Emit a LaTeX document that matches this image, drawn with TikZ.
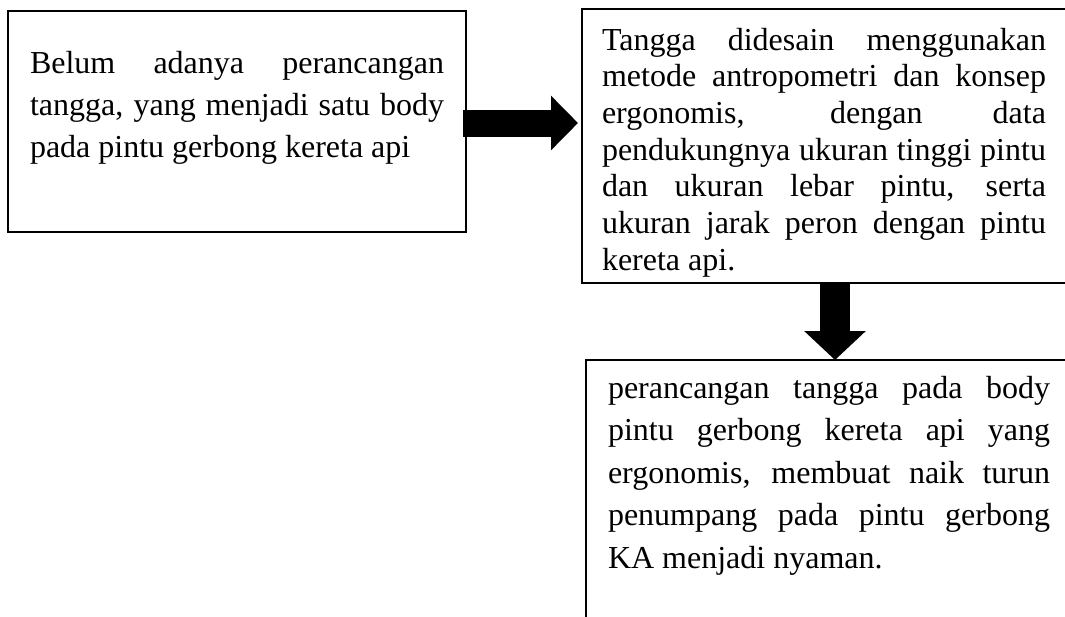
\documentclass[tikz,border=0pt]{standalone}
\usepackage{fontspec}
\setmainfont{Liberation Serif}
\usetikzlibrary{arrows.meta,calc}
\begin{document}
\begin{tikzpicture}[x=1pt,y=-1pt,
  boxa/.style={draw, line width=2pt, rectangle, anchor=north west, inner sep=0pt, outer sep=0pt},
  txt/.style={anchor=base west, inner sep=0pt, outer sep=0pt, align=justify},
  bigarrow/.style={draw=black, line width=#1}]
\useasboundingbox (0,0) rectangle (1065,616);
\clip (0,0) rectangle (1065,616);
\node[boxa, minimum width=458pt, minimum height=221pt] (b1) at (8,11) {};
\node[boxa, line width=2.6pt, minimum width=500pt, minimum height=274pt] (b2) at (582,9) {};
\node[boxa, minimum width=500pt, minimum height=280pt] (b3) at (586,360) {};
\node[txt, text width=414pt, font=\fontsize{32}{42}\selectfont] (t1) at (30,73)
 {Belum adanya perancangan\linebreak tangga, yang menjadi satu body\linebreak pada pintu gerbong kereta api};
\node[txt, text width=444pt, font=\fontsize{32}{36.67}\selectfont] (t2) at (602,50)
 {Tangga didesain menggunakan\linebreak metode antropometri dan konsep\linebreak ergonomis, dengan data\linebreak pendukungnya ukuran tinggi pintu\linebreak dan ukuran lebar pintu, serta\linebreak ukuran jarak peron dengan pintu\linebreak kereta api.};
\node[txt, text width=442pt, font=\fontsize{32}{42.5}\selectfont] (t3) at (608,398)
 {perancangan tangga pada body\linebreak pintu gerbong kereta api yang\linebreak ergonomis, membuat naik turun\linebreak penumpang pada pintu gerbong\linebreak KA menjadi nyaman.};
\coordinate (a1s) at ($(b1.east)+(-3,1.5)$);
\coordinate (a1e) at ($(b1.east -| b2.west)+(-4,1.5)$);
\draw[bigarrow=27pt, -{Triangle[width=53pt,length=27pt]}] (a1s) -- (a1e);
\coordinate (a2) at ($(b2.south west)+(253,0)$);
\draw[bigarrow=30pt, -{Triangle[width=60pt,length=29pt]}] (a2) -- (a2 |- b3.north);
\end{tikzpicture}
\end{document}
